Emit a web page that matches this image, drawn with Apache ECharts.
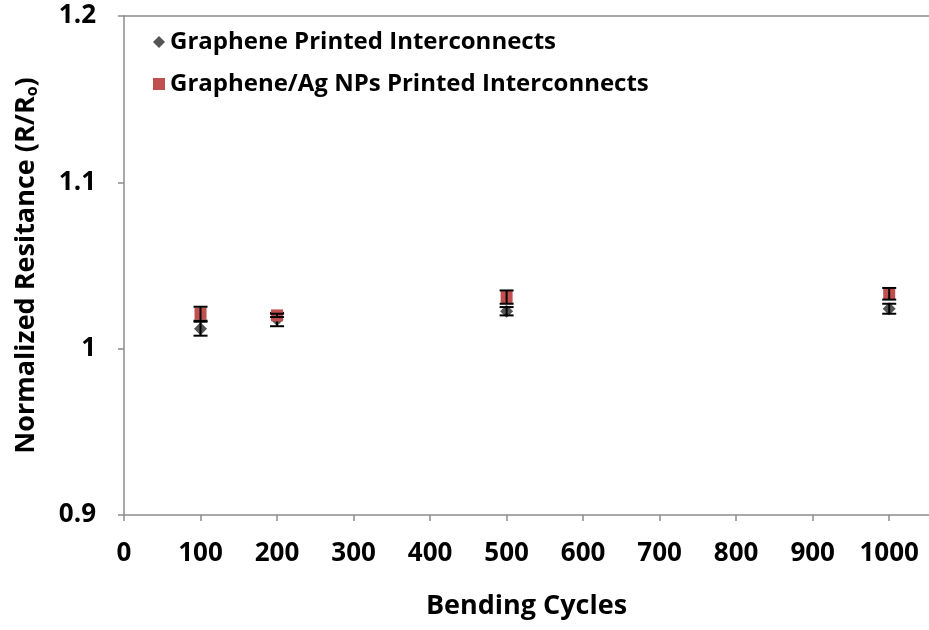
<!DOCTYPE html>
<html><head><meta charset="utf-8">
<script src="https://cdn.jsdelivr.net/npm/echarts@6/dist/echarts.min.js"></script>
<style>html,body{margin:0;padding:0;background:#fff}#c{width:929px;height:630px}</style>
</head><body><div id="c"></div>
<script>
const cycles = [100, 200, 500, 1000];
const grapheneVals = [1.012, 1.0175, 1.0225, 1.024];
const grapheneErr = [0.0042, 0.004, 0.0025, 0.003];
const agVals = [1.021, 1.020, 1.031, 1.033];
const agErr = [0.0042, 0.001, 0.004, 0.0035];
const xTicks = [0, 100, 200, 300, 400, 500, 600, 700, 800, 900, 1000];
const seriesNames = ['Graphene Printed Interconnects', 'Graphene/Ag NPs Printed Interconnects'];

const FONT = 'Open Sans';
const AX = '#8c8c8c';
function errSeries(vals, errs, z) {
  return {
    type: 'custom',
    silent: true,
    z: z,
    data: cycles.map((c, i) => [c, vals[i], errs[i]]),
    renderItem: function (params, api) {
      const x = api.value(0), v = api.value(1), e = api.value(2);
      const top = api.coord([x, v + e]);
      const bot = api.coord([x, v - e]);
      const hw = 7;
      const st = { stroke: '#000', lineWidth: 2 };
      return { type: 'group', children: [
        { type: 'line', shape: { x1: top[0], y1: top[1], x2: bot[0], y2: bot[1] }, style: st },
        { type: 'line', shape: { x1: top[0] - hw, y1: top[1], x2: top[0] + hw, y2: top[1] }, style: st },
        { type: 'line', shape: { x1: bot[0] - hw, y1: bot[1], x2: bot[0] + hw, y2: bot[1] }, style: st }
      ]};
    }
  };
}

const chart = echarts.init(document.getElementById('c'));
chart.setOption({
  animation: false,
  backgroundColor: '#fff',
  grid: { left: 124, right: -3, top: 16, bottom: 115, show: false },
  legend: {
    orient: 'vertical', left: 148, top: 25, itemGap: 18, itemWidth: 12, itemHeight: 12,
    textStyle: { fontFamily: FONT, fontWeight: 'bold', fontSize: 24, color: '#000' },
    data: [
      { name: seriesNames[0], icon: 'diamond', itemStyle: { color: '#555', opacity: 1 } },
      { name: seriesNames[1], icon: 'rect', itemStyle: { color: '#c0504d', opacity: 1 } }
    ]
  },
  xAxis: [{
    type: 'value', min: 0, max: 1052,
    axisLine: { lineStyle: { color: AX, width: 1.5 } },
    axisTick: { show: true, length: 6, customValues: xTicks, lineStyle: { color: AX, width: 1.5 } },
    splitLine: { show: false },
    axisLabel: { margin: 26, customValues: xTicks, fontFamily: FONT, fontWeight: 'bold', fontSize: 26, color: '#000',
      formatter: v => String(v) },
    name: 'Bending Cycles', nameLocation: 'middle', nameGap: 78,
    nameTextStyle: { fontFamily: FONT, fontWeight: 'bold', fontSize: 27, color: '#000' }
  }, {
    type: 'value', min: 0, max: 1052, position: 'top',
    axisLine: { show: true, lineStyle: { color: AX, width: 1.5 } },
    axisTick: { show: false }, axisLabel: { show: false }, splitLine: { show: false }
  }],
  yAxis: {
    type: 'value', min: 0.9, max: 1.2, interval: 0.1,
    axisLine: { show: true, lineStyle: { color: AX, width: 1.5 } },
    axisTick: { show: true, length: 6, lineStyle: { color: AX, width: 1.5 } },
    splitLine: { show: false },
    axisLabel: { margin: 28, fontFamily: FONT, fontWeight: 'bold', fontSize: 26, color: '#000',
      formatter: v => (Math.round(v * 10) / 10).toString() },
    name: '{a|Normalized Resitance (R/R}{b|o}{a|)}', nameLocation: 'middle', nameGap: 84, nameRotate: 90,
    nameTextStyle: { rich: {
      a: { fontFamily: FONT, fontWeight: 'bold', fontSize: 27, color: '#000' },
      b: { fontFamily: FONT, fontWeight: 'bold', fontSize: 16, color: '#000', padding: [12, 0, 0, 0] }
    } }
  },
  series: [
    { name: seriesNames[0], type: 'scatter', symbol: 'diamond', symbolSize: 13, z: 3,
      itemStyle: { color: '#555', opacity: 1 }, data: cycles.map((c, i) => [c, grapheneVals[i]]) },
    errSeries(grapheneVals, grapheneErr, 5),
    { name: seriesNames[1], type: 'scatter', symbol: 'rect', symbolSize: 12, z: 6,
      itemStyle: { color: '#c0504d', opacity: 1 }, data: cycles.map((c, i) => [c, agVals[i]]) },
    errSeries(agVals, agErr, 7)
  ]
});
</script></body></html>
